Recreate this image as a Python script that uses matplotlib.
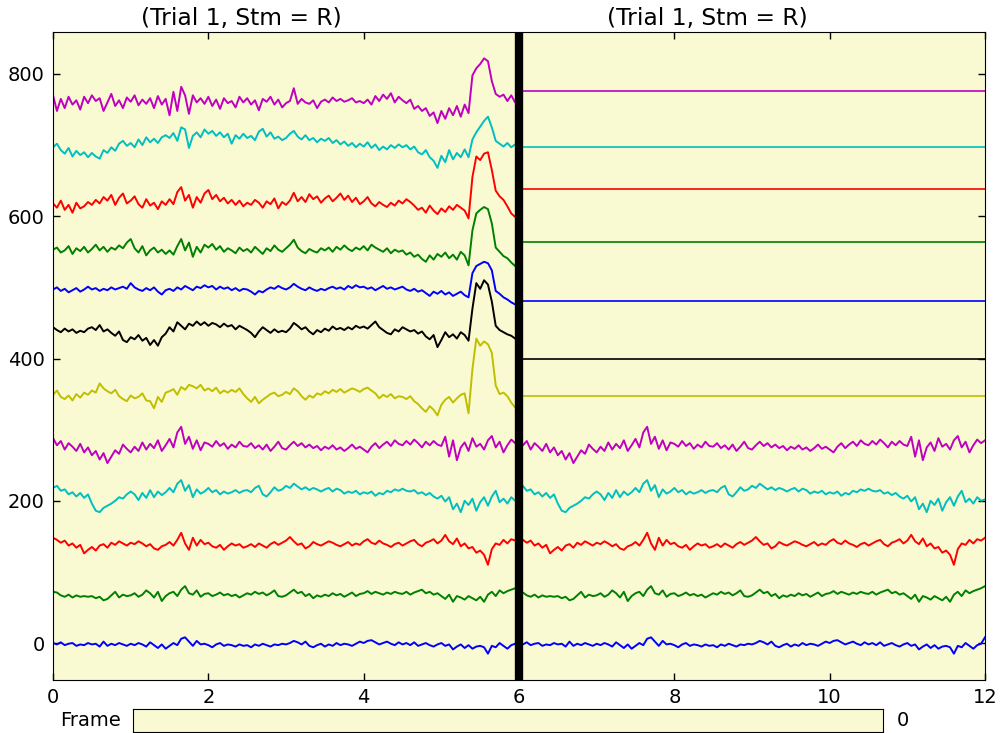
import numpy as np
import matplotlib.pyplot as plt

dt = 0.05

ch01 = [0, -2, 1, -3, -1, 0, -4, -2, -3, 0,
        -2, -1, -5, 2, -4, -1, -3, 0, -2, -4,
        -1, -3, 0, -2, -5, 1, -3, -7, -2, -8,
        -4, 0, -3, 6, 8, 2, -4, 3, -2, -1,
        -3, -6, -2, 0, -4, -2, -3, -5, -2, -4,
        -3, -6, -2, -4, -1, -3, -5, -2, -3, -1,
        -2, 0, 3, 1, -2, 2, -4, -6, -3, -1,
        -5, -2, -4, 0, -3, -1, -2, -4, -1, 2,
        0, 3, 4, 1, -2, 0, 2, -1, -3, 1,
        -2, 0, -3, 1, -4, -2, 0, -3, -5, -2,
        0, -4, -2, -9, -5, -2, -7, -3, -8, -5,
        -4, -6, -15, -4, -6, 0, -4, -8, -3, -1,
        8]
ch02 = [72, 71, 67, 65, 68, 64, 67, 65, 66, 65,
        66, 63, 65, 60, 62, 67, 72, 64, 68, 66,
        67, 70, 65, 68, 74, 70, 64, 72, 59, 66,
        70, 72, 66, 75, 80, 70, 68, 74, 65, 69,
        70, 66, 68, 71, 67, 69, 66, 68, 64, 67,
        70, 68, 72, 69, 71, 67, 70, 74, 66, 65,
        67, 71, 75, 70, 72, 66, 69, 63, 67, 65,
        68, 66, 70, 67, 69, 65, 68, 71, 66, 69,
        70, 73, 69, 72, 70, 68, 71, 69, 72, 70,
        69, 72, 68, 71, 73, 75, 70, 72, 68, 70,
        66, 62, 68, 58, 66, 64, 61, 66, 63, 60,
        65, 58, 68, 72, 66, 74, 70, 73, 75, 77,
        80]
ch03 = [148, 145, 141, 144, 137, 140, 134, 138, 126, 131,
        135, 130, 137, 139, 134, 141, 138, 143, 140, 137,
        141, 139, 143, 140, 136, 139, 133, 131, 136, 138,
        142, 137, 145, 155, 140, 131, 148, 137, 145, 139,
        141, 136, 134, 138, 131, 136, 140, 137, 139, 134,
        136, 139, 135, 140, 137, 134, 139, 142, 138, 141,
        144, 149, 143, 138, 140, 133, 136, 142, 139, 137,
        140, 143, 141, 138, 136, 139, 142, 137, 140, 138,
        143, 146, 141, 139, 144, 140, 138, 135, 139, 141,
        137, 140, 143, 145, 139, 136, 141, 143, 146, 140,
        144, 152, 143, 139, 147, 136, 140, 133, 135, 127,
        130, 124, 110, 132, 140, 138, 145, 140, 146, 144,
        148]
ch04 = [218, 221, 214, 216, 209, 212, 206, 211, 204, 209,
        196, 186, 184, 190, 193, 196, 200, 205, 203, 209,
        213, 209, 201, 211, 204, 215, 205, 213, 208, 212,
        218, 212, 224, 229, 214, 222, 205, 216, 210, 213,
        218, 212, 215, 209, 213, 210, 212, 215, 211, 214,
        215, 212, 218, 221, 209, 206, 212, 219, 214, 216,
        221, 218, 224, 220, 216, 219, 215, 218, 216, 213,
        216, 218, 213, 217, 215, 210, 213, 211, 214, 209,
        212, 210, 213, 207, 211, 209, 214, 212, 216, 214,
        217, 214, 213, 215, 210, 212, 208, 211, 206, 203,
        207, 199, 205, 188, 196, 184, 200, 194, 203, 186,
        198, 205, 193, 206, 214, 198, 203, 196, 205, 200,
        202]
ch05 = [288, 278, 284, 272, 281, 276, 270, 280, 268, 275,
        264, 270, 258, 267, 253, 262, 271, 266, 279, 273,
        268, 276, 270, 282, 272, 280, 274, 285, 270, 278,
        287, 275, 296, 304, 280, 290, 273, 285, 271, 282,
        280, 276, 284, 277, 281, 273, 279, 275, 283, 277,
        276, 281, 274, 278, 272, 279, 270, 276, 283, 274,
        272, 278, 283, 277, 281, 275, 279, 274, 277, 271,
        276, 273, 278, 272, 275, 270, 274, 279, 273, 276,
        272, 268, 276, 281, 274, 279, 283, 277, 285, 280,
        278, 284, 279, 286, 281, 275, 283, 278, 284, 279,
        277, 290, 262, 285, 257, 275, 282, 270, 288, 276,
        280, 272, 285, 291, 275, 283, 268, 278, 286, 281,
        285]
ch06 = [349, 355, 346, 343, 348, 341, 350, 345, 352, 349,
        355, 352, 365, 358, 354, 351, 356, 347, 343, 340,
        348, 344, 346, 351, 341, 340, 330, 346, 339, 352,
        354, 357, 349, 360, 356, 363, 361, 358, 363, 355,
        358, 354, 359, 351, 355, 352, 356, 353, 358, 350,
        344, 339, 346, 337, 342, 346, 350, 352, 347, 349,
        353, 350, 358, 354, 347, 342, 348, 345, 351, 349,
        354, 351, 356, 353, 357, 352, 355, 358, 356, 353,
        357, 359, 355, 351, 344, 349, 346, 350, 344, 347,
        346, 343, 347, 340, 336, 330, 325, 333, 328, 320,
        335, 342, 346, 338, 344, 349, 351, 323, 385, 428,
        418, 424, 420, 408, 362, 350, 352, 347, 338, 331,
        330]
ch07 = [444, 440, 437, 442, 438, 441, 436, 439, 437, 442,
        444, 440, 447, 438, 441, 436, 432, 438, 426, 423,
        430, 427, 433, 425, 429, 419, 426, 418, 430, 435,
        444, 438, 451, 446, 441, 449, 446, 452, 447, 451,
        446, 450, 448, 444, 449, 445, 447, 441, 446, 443,
        440, 436, 430, 438, 444, 440, 436, 441, 437, 439,
        437, 442, 450, 446, 441, 444, 438, 434, 440, 437,
        442, 439, 445, 441, 443, 440, 444, 441, 446, 443,
        445, 442, 447, 452, 444, 440, 436, 434, 441, 438,
        444, 441, 438, 440, 435, 438, 431, 427, 433, 416,
        426, 437, 430, 434, 428, 437, 433, 425, 470, 506,
        498, 510, 504, 480, 446, 440, 437, 434, 432, 428,
        427]
ch08 = [497, 500, 495, 498, 493, 496, 499, 494, 497, 501,
        497, 499, 495, 498, 496, 500, 497, 499, 501, 498,
        506, 500, 497, 495, 499, 496, 500, 494, 490, 496,
        498, 495, 500, 497, 502, 499, 496, 501, 499, 503,
        500, 502, 497, 501, 498, 500, 496, 499, 495, 498,
        497, 494, 490, 495, 493, 497, 500, 498, 502, 499,
        497, 500, 505, 501, 498, 496, 500, 497, 495, 498,
        496, 499, 501, 498, 500, 497, 502, 499, 503, 500,
        501, 498, 500, 496, 499, 502, 498, 500, 497, 499,
        501, 497, 495, 498, 494, 496, 492, 488, 494, 491,
        495, 490, 493, 488, 491, 494, 489, 486, 520, 530,
        533, 536, 534, 524, 495, 491, 486, 483, 479, 476,
        474]
ch09 = [553, 556, 549, 552, 558, 547, 555, 551, 557, 549,
        554, 560, 552, 557, 550, 556, 553, 559, 555, 563,
        568, 555, 549, 558, 545, 552, 556, 549, 553, 547,
        552, 546, 558, 568, 552, 563, 543, 557, 549, 560,
        556, 561, 553, 558, 550, 555, 552, 548, 556, 551,
        554, 549, 557, 552, 547, 555, 551, 559, 553, 550,
        555, 560, 567, 556, 551, 548, 554, 551, 549, 555,
        552, 556, 550, 557, 553, 559, 554, 551, 556, 553,
        558, 552, 560, 556, 553, 550, 555, 548, 553, 550,
        552, 546, 549, 543, 546, 540, 536, 545, 539, 547,
        543, 549, 541, 546, 539, 550, 545, 531, 580, 604,
        609, 613, 610, 590, 556, 550, 544, 541, 535, 530,
        528]
ch10 = [618, 612, 622, 609, 616, 605, 619, 611, 614, 620,
        616, 623, 618, 627, 622, 630, 616, 626, 632, 618,
        622, 628, 617, 612, 624, 615, 619, 610, 621, 616,
        624, 617, 634, 641, 622, 630, 612, 627, 619, 632,
        637, 624, 630, 621, 626, 618, 623, 616, 622, 614,
        619, 616, 623, 619, 612, 621, 617, 625, 611, 620,
        616, 622, 633, 621, 627, 620, 631, 624, 628, 619,
        625, 629, 621, 626, 632, 623, 629, 620, 626, 617,
        621, 627, 618, 614, 620, 616, 613, 619, 615, 622,
        618, 624, 620, 615, 609, 612, 605, 615, 608, 603,
        611, 606, 614, 609, 616, 612, 608, 597, 655, 684,
        679, 688, 690, 665, 636, 628, 623, 614, 604, 599,
        600]
ch11 = [697, 702, 693, 688, 696, 684, 692, 686, 690, 683,
        689, 684, 681, 693, 689, 697, 692, 702, 706, 699,
        703, 697, 708, 700, 711, 704, 709, 703, 711, 714,
        710, 717, 706, 725, 722, 696, 713, 718, 711, 722,
        716, 720, 713, 718, 711, 716, 702, 714, 709, 716,
        710, 713, 707, 719, 723, 712, 718, 709, 712, 707,
        710, 716, 720, 712, 708, 714, 707, 710, 704, 709,
        706, 710, 703, 707, 701, 705, 699, 703, 697, 702,
        698, 704, 696, 701, 693, 698, 694, 700, 696, 701,
        697, 700, 694, 698, 690, 687, 693, 683, 678, 668,
        685, 676, 693, 680, 689, 683, 694, 683, 708, 718,
        726, 734, 740, 725, 706, 702, 698, 703, 697, 701,
        702]
ch12 = [770, 748, 765, 752, 768, 757, 763, 750, 768, 759,
        770, 762, 766, 748, 760, 772, 755, 763, 752, 767,
        761, 770, 756, 764, 758, 766, 752, 769, 757, 765,
        742, 775, 748, 782, 770, 744, 770, 760, 766, 758,
        768, 755, 764, 751, 766, 759, 762, 753, 768, 760,
        766, 757, 763, 749, 765, 761, 768, 757, 764, 753,
        759, 762, 780, 758, 765, 760, 758, 763, 752, 761,
        764, 760, 767, 762, 765, 761, 763, 766, 760, 762,
        759, 764, 757, 769, 762, 771, 765, 773, 760, 768,
        763, 759, 764, 751, 755, 748, 752, 741, 746, 731,
        748, 737, 752, 742, 755, 740, 757, 745, 798, 808,
        814, 822, 818, 790, 772, 768, 771, 762, 770, 760,
        766]

channels = [ch01, ch02, ch03, ch04, ch05, ch06, ch07, ch08, ch09, ch10, ch11, ch12]
colors = ['b', 'g', 'r', 'c', 'm', 'y', 'k', 'b', 'g', 'r', 'c', 'm']

# right half: first 5 channels repeat, the others are held at a constant level
n_live = 5
held_levels = {5: 347, 6: 399, 7: 481, 8: 564, 9: 638, 10: 697, 11: 776}

title_text = "(Trial 1, Stm = R)"

plt.rcParams['font.family'] = 'DejaVu Sans'
plt.rcParams['font.size'] = 14

fig = plt.figure(figsize=(10.01, 7.33), dpi=100)
ax = fig.add_axes([0.053, 0.0723, 0.931, 0.884])
ax.set_facecolor('lightgoldenrodyellow')

t = np.arange(len(ch01)) * dt
for i, (vals, col) in enumerate(zip(channels, colors)):
    ax.plot(t, vals, color=col, lw=1.4)
    if i < n_live:
        ax.plot(t + 6, vals, color=col, lw=1.4)
    else:
        ax.plot([6, 12], [held_levels[i], held_levels[i]], color=col, lw=1.2)

ax.axvline(6, color='k', lw=6)
ax.set_xlim(0, 12)
ax.set_ylim(-52, 859)
ax.set_xticks([0, 2, 4, 6, 8, 10, 12])
ax.set_yticks([0, 200, 400, 600, 800])
ax.tick_params(direction='in', top=True, right=True, length=5, width=1, pad=6)

fig.text(0.241, 0.975, title_text, ha='center', va='center', fontsize=16.8)
fig.text(0.707, 0.975, title_text, ha='center', va='center', fontsize=16.8)

# frame slider
sax = fig.add_axes([0.133, 0.0014, 0.749, 0.031])
sax.set_facecolor('lightgoldenrodyellow')
sax.set_xticks([])
sax.set_yticks([])
sax.text(-0.016, 0.5, "Frame", transform=sax.transAxes, ha='right', va='center')
sax.text(1.018, 0.5, "0", transform=sax.transAxes, ha='left', va='center')

plt.savefig("out.png", dpi=100)
